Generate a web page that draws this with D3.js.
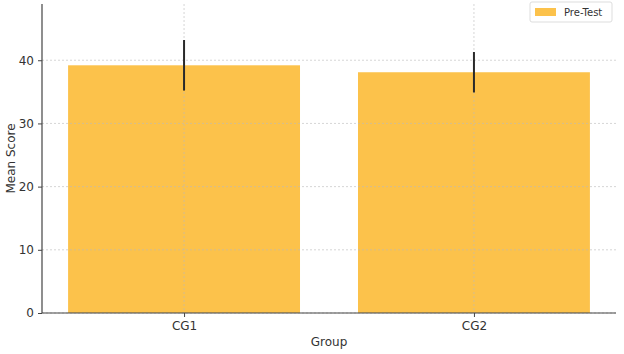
<!DOCTYPE html>
<html>
<head>
<meta charset="utf-8">
<script src="https://cdn.jsdelivr.net/npm/d3@7"></script>
<style>
body { margin: 0; background: #fff; }
text { font-family: "DejaVu Sans", sans-serif; fill: #333; }
</style>
</head>
<body>
<svg width="624" height="354"></svg>
<script>
var groups = ["CG1", "CG2"];
var means = [39.2, 38.1];
var errors = [4.0, 3.2];
var yTicks = [0, 10, 20, 30, 40];
var seriesName = "Pre-Test";

var svg = d3.select("svg"),
    margin = {top: 4, right: 8, bottom: 41, left: 42},
    width = +svg.attr("width") - margin.left - margin.right,
    height = +svg.attr("height") - margin.top - margin.bottom,
    g = svg.append("g").attr("transform", "translate(" + margin.left + "," + margin.top + ")");

var x = d3.scaleLinear().domain([-0.49, 1.49]).range([0, width]);
var y = d3.scaleLinear().domain([0, 48.9]).range([height, 0]);

var barW = x(0.8) - x(0);

// bars
g.selectAll(".bar")
    .data(means)
    .enter().append("rect")
    .attr("class", "bar")
    .attr("x", function(d, i) { return x(i) - barW / 2; })
    .attr("y", function(d) { return y(d); })
    .attr("width", barW)
    .attr("height", function(d) { return height - y(d); })
    .attr("fill", "#fcc24b");

// grid on top of bars
g.selectAll(".hgrid")
    .data(yTicks)
    .enter().append("line")
    .attr("x1", 0).attr("x2", width)
    .attr("y1", function(d) { return y(d); })
    .attr("y2", function(d) { return y(d); })
    .attr("stroke", "#bbb").attr("stroke-opacity", 0.6)
    .attr("stroke-dasharray", "2,2");

g.selectAll(".vgrid")
    .data(groups)
    .enter().append("line")
    .attr("x1", function(d, i) { return x(i); })
    .attr("x2", function(d, i) { return x(i); })
    .attr("y1", 0).attr("y2", height)
    .attr("stroke", "#bbb").attr("stroke-opacity", 0.6)
    .attr("stroke-dasharray", "2,2");

// error bars
g.selectAll(".err")
    .data(means)
    .enter().append("line")
    .attr("x1", function(d, i) { return x(i); })
    .attr("x2", function(d, i) { return x(i); })
    .attr("y1", function(d, i) { return y(d - errors[i]); })
    .attr("y2", function(d, i) { return y(d + errors[i]); })
    .attr("stroke", "#2a2a2a").attr("stroke-width", 2);

// axes
var yAxis = g.append("g")
    .call(d3.axisLeft(y).tickValues(yTicks).tickSize(4).tickPadding(4));
var xAxis = g.append("g")
    .attr("transform", "translate(0," + height + ")")
    .call(d3.axisBottom(x).tickValues([0, 1]).tickFormat(function(d) { return groups[d]; }).tickSize(4).tickPadding(4));

[yAxis, xAxis].forEach(function(a) {
    a.select(".domain").attr("stroke", "#444").attr("stroke-width", 1.2);
    a.selectAll(".tick line").attr("stroke", "#444");
    a.selectAll(".tick text").attr("font-size", 12).attr("fill", "#333");
});
yAxis.select(".domain").attr("d", "M0," + height + "V0");
xAxis.select(".domain").attr("d", "M0,0H" + width);

// axis labels
svg.append("text")
    .attr("x", margin.left + width / 2)
    .attr("y", 346)
    .attr("text-anchor", "middle")
    .attr("font-size", 12)
    .text("Group");

svg.append("text")
    .attr("transform", "translate(15," + (margin.top + height / 2) + ") rotate(-90)")
    .attr("text-anchor", "middle")
    .attr("font-size", 12)
    .text("Mean Score");

// legend
var leg = svg.append("g").attr("transform", "translate(530,2)");
leg.append("rect")
    .attr("width", 82).attr("height", 20).attr("rx", 2)
    .attr("fill", "#fff").attr("stroke", "#ddd");
leg.append("rect")
    .attr("x", 5).attr("y", 6).attr("width", 21).attr("height", 8)
    .attr("fill", "#fcc24b");
leg.append("text")
    .attr("x", 34).attr("y", 14)
    .attr("font-size", 10)
    .text(seriesName);
</script>
</body>
</html>
